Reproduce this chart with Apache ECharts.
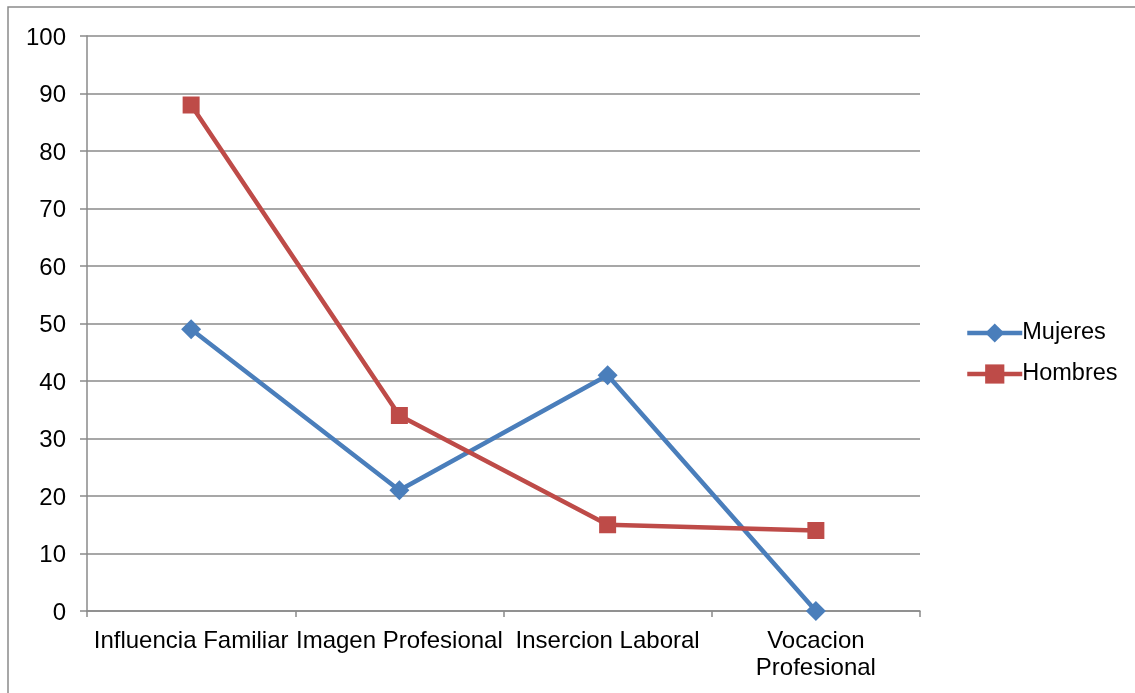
<!DOCTYPE html>
<html>
<head>
<meta charset="utf-8">
<script src="https://cdn.jsdelivr.net/npm/echarts@6/dist/echarts.min.js"></script>
<style>
  html, body { margin: 0; padding: 0; background: #fff; }
  #main { width: 1135px; height: 693px; }
</style>
</head>
<body>
<div id="main"></div>
<script>
// datos
var categorias = ['Influencia Familiar', 'Imagen Profesional', 'Insercion Laboral', 'Vocacion\nProfesional'];
var mujeres = [49, 21, 41, 0];
var hombres = [88, 34, 15, 14];

var gris = '#8a8a8a';
var fuente = 'Liberation Sans, Arial, sans-serif';

var myChart = echarts.init(document.getElementById('main'));
myChart.setOption({
    animation: false,
    color: ['#4a7ebb', '#be4b48'],
    graphic: [{
        type: 'rect',
        shape: { x: 8, y: 7, width: 1140, height: 700 },
        style: { fill: 'none', stroke: gris, lineWidth: 1.5 },
        silent: true
    }],
    grid: { left: 87, right: 215, top: 36, bottom: 82 },
    legend: {
        orient: 'vertical',
        left: 960,
        top: 316,
        itemWidth: 55,
        itemHeight: 24,
        itemGap: 17,
        lineStyle: { width: 4.5 },
        textStyle: { fontFamily: fuente, fontSize: 23.5, color: '#000', padding: [0, 0, 0, -5] },
        data: ['Mujeres', 'Hombres']
    },
    xAxis: {
        type: 'category',
        data: categorias,
        boundaryGap: true,
        axisLine: { lineStyle: { color: gris, width: 1.5 } },
        axisTick: { show: true, length: 6, lineStyle: { color: gris, width: 1.5 } },
        axisLabel: {
            interval: 0,
            margin: 17,
            fontFamily: fuente,
            fontSize: 24,
            color: '#000',
            lineHeight: 27
        }
    },
    yAxis: {
        type: 'value',
        min: 0,
        max: 100,
        interval: 10,
        axisLine: { show: true, lineStyle: { color: gris, width: 1.5 } },
        axisTick: { show: true, length: 7, lineStyle: { color: gris, width: 1.5 } },
        splitLine: { lineStyle: { color: gris, width: 1.5 } },
        axisLabel: {
            margin: 21,
            fontFamily: fuente,
            fontSize: 24,
            color: '#000',
            lineHeight: 30,
            verticalAlign: 'top',
            padding: [-13, 0, 0, 0]
        }
    },
    series: [
        {
            name: 'Mujeres',
            type: 'line',
            data: mujeres,
            symbol: 'diamond',
            symbolSize: 20,
            lineStyle: { width: 4.5 },
            itemStyle: { color: '#4a7ebb' }
        },
        {
            name: 'Hombres',
            type: 'line',
            data: hombres,
            symbol: 'rect',
            symbolSize: 17,
            lineStyle: { width: 4.5 },
            itemStyle: { color: '#be4b48' }
        }
    ]
});
</script>
</body>
</html>
